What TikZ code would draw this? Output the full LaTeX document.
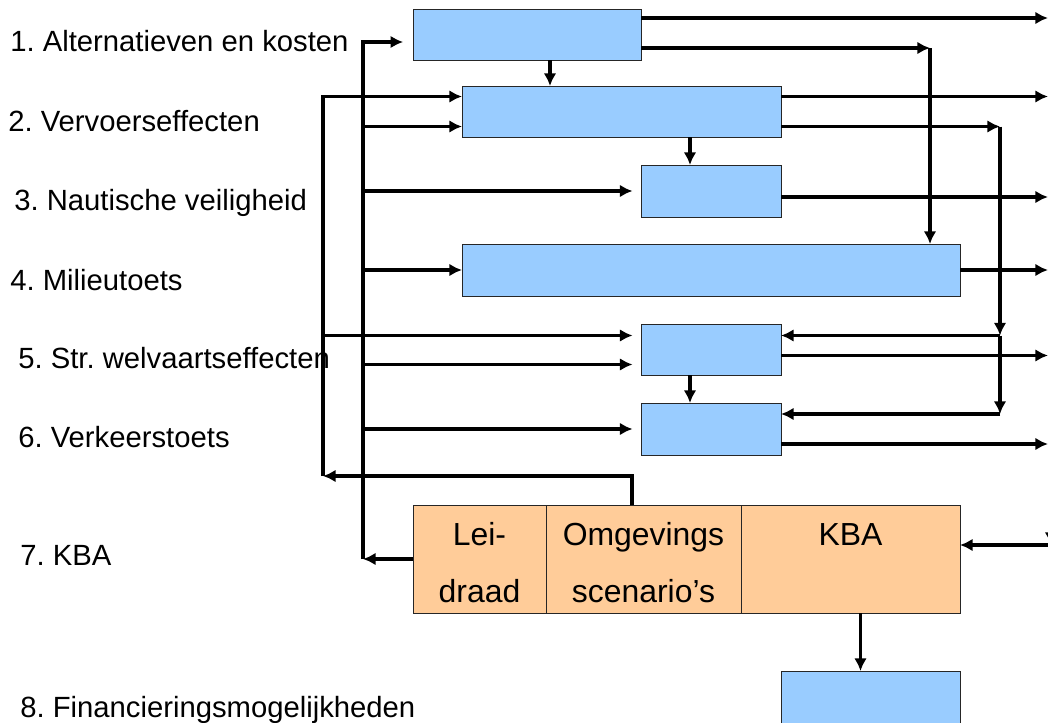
\documentclass[tikz,border=0pt]{standalone}
\usepackage{fontspec}
\setmainfont{Liberation Sans}
\frenchspacing
\usepackage{tikz}
\usetikzlibrary{arrows.meta}
\definecolor{blauw}{HTML}{99CCFF}
\definecolor{oranje}{HTML}{FFCC99}
\newcommand{\pix}{0.025cm}
\newcommand{\celstrut}{\rule{0pt}{22pt}}
\tikzset{>={Latex[length=9pt,width=9pt]}}
\tikzset{
  blok/.style={draw=black!85, line width=0.6pt, fill=blauw, inner sep=0pt, outer sep=0pt},
  kbacel/.style={draw=black!85, line width=0.6pt, fill=oranje, inner sep=0pt, outer sep=0pt,
    anchor=north west, minimum height=108*\pix, align=center,
    font=\fontsize{22.7}{40.4}\selectfont},
  stap/.style={anchor=base west, inner sep=0pt, font=\fontsize{20.8}{25}\selectfont},
  pijl/.style={->, line width=2.2pt}
}

\begin{document}
\begin{tikzpicture}[x=\pix, y=-\pix]
  \useasboundingbox (0,0) rectangle (1048,723);

  % Stappen
  \node[stap] (s1) at (10,52)  {1. Alternatieven en kosten};
  \node[stap] (s2) at (8,131)  {2. Vervoerseffecten};
  \node[stap] (s3) at (14,210) {3. Nautische veiligheid};
  \node[stap] (s4) at (10,290) {4. Milieutoets};
  \node[stap] (s5) at (18,368) {5. Str. welvaartseffecten};
  \node[stap] (s6) at (18,447) {6. Verkeerstoets};
  \node[stap] (s7) at (20,565) {7. KBA};
  \node[stap] (s8) at (20,717) {8. Financieringsmogelijkheden};

  % Blokken
  \node[blok, minimum width=228*\pix, minimum height=51*\pix] (alt)      at (527,34.5)  {};
  \node[blok, minimum width=319*\pix, minimum height=51*\pix] (vervoer)  at (621.5,111.5) {};
  \node[blok, minimum width=140*\pix, minimum height=52*\pix] (nautisch) at (711,191)   {};
  \node[blok, minimum width=498*\pix, minimum height=52*\pix] (milieu)   at (711,270)   {};
  \node[blok, minimum width=140*\pix, minimum height=51*\pix] (welvaart) at (711,349.5) {};
  \node[blok, minimum width=140*\pix, minimum height=52*\pix] (verkeer)  at (711,429)   {};
  \node[blok, minimum width=179*\pix, minimum height=56*\pix, anchor=north west] (financ) at (781,671) {};

  % KBA
  \node[kbacel, minimum width=133*\pix] (leid) at (413,505)          {\celstrut Lei-\\draad};
  \node[kbacel, minimum width=195*\pix] (omg)  at (leid.north east)  {\celstrut Omgevings\\scenario’s};
  \node[kbacel, minimum width=219*\pix] (kba)  at (omg.north east)   {\celstrut KBA\\\phantom{d}};

  % Hulppunten
  \coordinate (busA)  at (363,42);
  \coordinate (busB)  at (323,476);
  \coordinate (busC)  at (1000,414);
  \coordinate (busD)  at (1051,480);
  \coordinate (terug) at (632,476);
  \coordinate (rand)  at (1048,0);
  \coordinate (v1) at ([shift={(0,-15)}]vervoer.west);
  \coordinate (v2) at ([shift={(0,15)}]vervoer.west);
  \coordinate (w1) at ([shift={(0,-14)}]welvaart.west);
  \coordinate (w2) at ([shift={(0,15)}]welvaart.west);
  \coordinate (a1) at ([shift={(0,-16.5)}]alt.east);
  \coordinate (a2) at ([shift={(0,13.5)}]alt.east);
  \coordinate (m1) at ([shift={(219,0)}]milieu.north);
  \coordinate (v3) at ([shift={(0,-15)}]vervoer.east);
  \coordinate (v4) at ([shift={(0,15)}]vervoer.east);
  \coordinate (n1) at ([shift={(0,6)}]nautisch.east);
  \coordinate (w3) at ([shift={(0,-14)}]welvaart.east);
  \coordinate (w4) at ([shift={(0,6)}]welvaart.east);
  \coordinate (k3) at ([shift={(0,-15)}]verkeer.east);
  \coordinate (k4) at ([shift={(0,15)}]verkeer.east);
  \coordinate (k5) at ([shift={(0,-14)}]kba.east);
  \coordinate (p1) at ([shift={(23,0)}]alt.south);
  \coordinate (p2) at ([shift={(-21,0)}]nautisch.north);
  \coordinate (p3) at ([shift={(-21,0)}]verkeer.north);
  \coordinate (p4) at ([shift={(-10,0)}]financ.north);

  % Linker bussen
  \draw[pijl] (leid.west) -- (leid.west -| busA);
  \draw[pijl, shorten >=7pt] (leid.west -| busA) -- (busA) -- (busA -| alt.west);
  \draw[pijl] (v2 -| busA) -- (v2);
  \draw[pijl, shorten >=6pt] (nautisch.west -| busA) -- (nautisch.west);
  \draw[pijl] (milieu.west -| busA) -- (milieu.west);
  \draw[pijl, shorten >=6pt] (w2 -| busA) -- (w2);
  \draw[pijl, shorten >=6pt] (verkeer.west -| busA) -- (verkeer.west);

  \draw[pijl] (terug |- omg.north) -- (terug) -- (busB);
  \draw[pijl] (busB) -- (busB |- v1) -- (v1);
  \draw[pijl, shorten >=6pt] (w1 -| busB) -- (w1);

  % Verticale pijlen
  \draw[pijl] (p1) -- (p1 |- vervoer.north);
  \draw[pijl] (p2 |- vervoer.south) -- (p2);
  \draw[pijl] (p3 |- welvaart.south) -- (p3);
  \draw[pijl] (p4 |- kba.south) -- (p4);

  % Rechterkant
  \draw[pijl] (a1) -- (a1 -| rand);
  \draw[pijl] (a2) -- (a2 -| m1);
  \draw[pijl] (a2 -| m1) -- (m1);
  \draw[pijl] (v3) -- (v3 -| rand);
  \draw[pijl] (v4) -- (v4 -| busC);
  \draw[pijl] (v4 -| busC) -- (w3 -| busC);
  \draw[pijl] (w3 -| busC) -- (k3 -| busC);
  \draw[pijl] (w3 -| busC) -- (w3);
  \draw[pijl] (k3 -| busC) -- (k3);
  \draw[pijl] (n1) -- (n1 -| rand);
  \draw[pijl] (milieu.east) -- (milieu.east -| rand);
  \draw[pijl] (w4) -- (w4 -| rand);
  \draw[pijl] (k4) -- (k4 -| rand);
  \draw[pijl] (busD) -- (k5 -| busD);
  \draw[pijl] (k5 -| busD) -- (k5);

\end{tikzpicture}
\end{document}
